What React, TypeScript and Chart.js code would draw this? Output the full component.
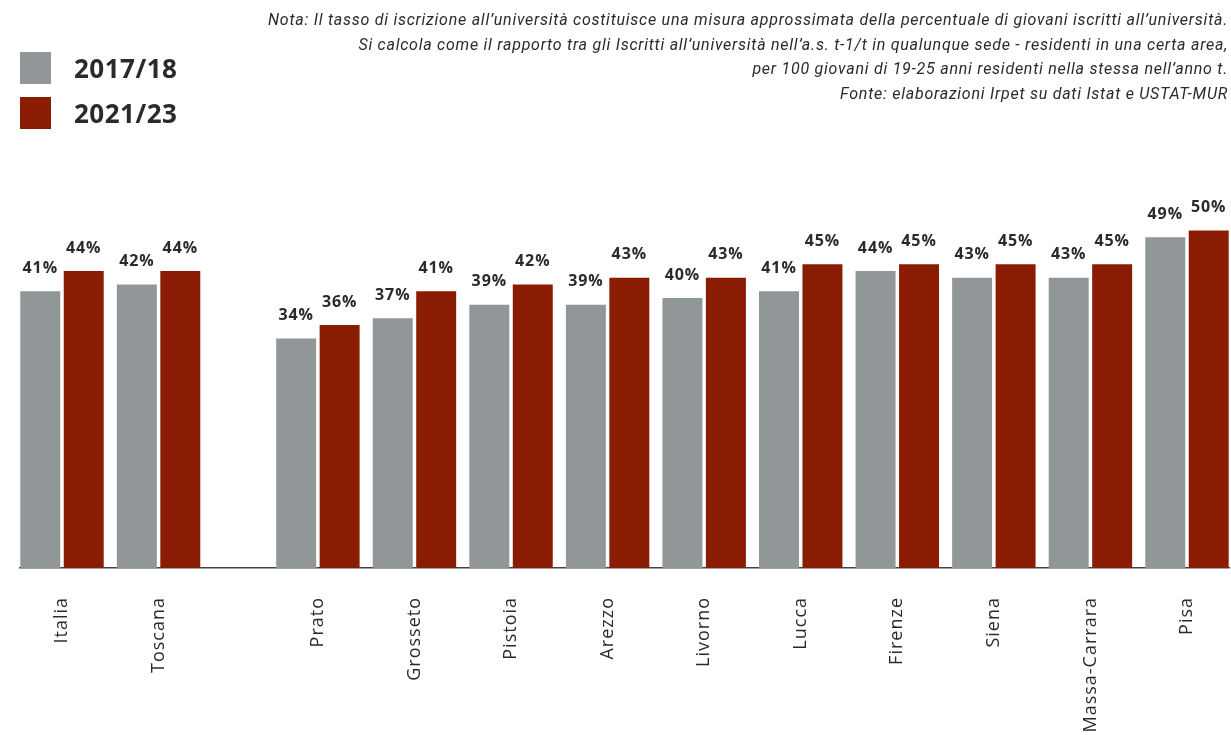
import React, { useEffect, useRef } from 'react';
import { Chart, registerables } from 'chart.js';

Chart.register(...registerables);

// University enrolment rate (%) by area
const regions = [
  'Italia',
  'Toscana',
  'Prato',
  'Grosseto',
  'Pistoia',
  'Arezzo',
  'Livorno',
  'Lucca',
  'Firenze',
  'Siena',
  'Massa-Carrara',
  'Pisa',
];
const enrolment2017 = [41, 42, 34, 37, 39, 39, 40, 41, 44, 43, 43, 49];
const enrolment2021 = [44, 44, 36, 41, 42, 43, 43, 45, 45, 45, 45, 50];
const seriesLabels = ['2017/18', '2021/23'];
const noteLines = [
  'Nota: Il tasso di iscrizione all’università costituisce una misura approssimata della percentuale di giovani iscritti all’università.',
  'Si calcola come il rapporto tra gli Iscritti all’università nell’a.s. t-1/t in qualunque sede - residenti in una certa area,',
  'per 100 giovani di 19-25 anni residenti nella stessa nell’anno t.',
  'Fonte: elaborazioni Irpet su dati Istat e USTAT-MUR',
];

const GRAY = '#919698';
const RED = '#8a1c03';
const TEXT = '#2a2a2a';

// Italia and Toscana are set apart from the provinces by an extra gap
const GROUP_GAP = 0.65;
const xPos = (i: number) => (i < 2 ? i : i + GROUP_GAP);
const EDGE = 0.435;

// Wider tracking for all canvas text
const tracking = {
  id: 'tracking',
  beforeDraw(chart: any) {
    chart.ctx.letterSpacing = '1px';
  },
};

const valueLabels = {
  id: 'valueLabels',
  afterDatasetsDraw(chart: any) {
    const { ctx } = chart;
    ctx.save();
    ctx.letterSpacing = '0.9px';
    ctx.font = '700 16px "Open Sans"';
    ctx.fillStyle = TEXT;
    ctx.textAlign = 'center';
    ctx.textBaseline = 'middle';
    chart.data.datasets.forEach((ds: any, di: number) => {
      const meta = chart.getDatasetMeta(di);
      meta.data.forEach((el: any, i: number) => {
        ctx.fillText(`${ds.data[i].y}%`, el.x, el.y - 23);
      });
    });
    ctx.restore();
  },
};

export default function App() {
  const canvasRef = useRef<HTMLCanvasElement | null>(null);

  useEffect(() => {
    if (!canvasRef.current) return;
    const chart = new Chart(canvasRef.current, {
      type: 'bar',
      data: {
        datasets: [
          {
            label: seriesLabels[0],
            data: regions.map((_, i) => ({ x: xPos(i), y: enrolment2017[i] })),
            backgroundColor: GRAY,
            categoryPercentage: 0.9,
            barPercentage: 0.92,
          },
          {
            label: seriesLabels[1],
            data: regions.map((_, i) => ({ x: xPos(i), y: enrolment2021[i] })),
            backgroundColor: RED,
            categoryPercentage: 0.9,
            barPercentage: 0.92,
          },
        ],
      },
      options: {
        animation: false,
        responsive: false,
        devicePixelRatio: 1,
        layout: { padding: { top: 163, left: 20, right: 2, bottom: 0 } },
        plugins: {
          legend: { display: false },
          tooltip: { enabled: false },
        },
        scales: {
          x: {
            type: 'linear',
            offset: false,
            min: -EDGE,
            max: xPos(regions.length - 1) + EDGE,
            afterBuildTicks: (scale: any) => {
              scale.ticks = regions.map((_, i) => ({ value: xPos(i) }));
            },
            afterFit: (scale: any) => {
              scale.height = 167;
              scale.paddingLeft = 0;
              scale.paddingRight = 0;
            },
            ticks: {
              autoSkip: false,
              minRotation: 90,
              maxRotation: 90,
              padding: 29,
              color: TEXT,
              font: { family: '"Open Sans"', size: 18 },
              callback: (_v: any, index: number) => regions[index],
            },
            grid: { display: false, drawTicks: false },
            border: { display: true, color: '#444', width: 1.5 },
          },
          y: { display: false, min: 0, max: 60 },
        },
      },
      plugins: [tracking, valueLabels],
    } as any);
    return () => chart.destroy();
  }, []);

  return (
    <div
      style={{
        position: 'fixed',
        left: 0,
        top: 0,
        width: 1231,
        height: 735,
        overflow: 'hidden',
        background: '#fff',
        fontFamily: '"Open Sans", sans-serif',
      }}
    >
      <canvas
        ref={canvasRef}
        width={1231}
        height={735}
        style={{ position: 'absolute', left: 0, top: 0, width: 1231, height: 735 }}
      />
      {seriesLabels.map((label, i) => (
        <div key={label}>
          <div
            style={{
              position: 'absolute',
              left: 20,
              top: 52 + i * 45,
              width: 31,
              height: 32,
              background: i === 0 ? GRAY : RED,
            }}
          />
          <div
            style={{
              position: 'absolute',
              left: 74,
              top: 52 + i * 45,
              height: 32,
              lineHeight: '32px',
              fontSize: 26,
              fontWeight: 700,
              letterSpacing: 0.5,
              color: TEXT,
            }}
          >
            {label}
          </div>
        </div>
      ))}
      <div
        style={{
          position: 'absolute',
          right: 3,
          top: 8,
          textAlign: 'right',
          fontFamily: 'Roboto, sans-serif',
          fontStyle: 'italic',
          fontSize: 16,
          letterSpacing: 0.75,
          lineHeight: '24.7px',
          color: TEXT,
          whiteSpace: 'nowrap',
        }}
      >
        {noteLines.map((line) => (
          <div key={line}>{line}</div>
        ))}
      </div>
    </div>
  );
}
